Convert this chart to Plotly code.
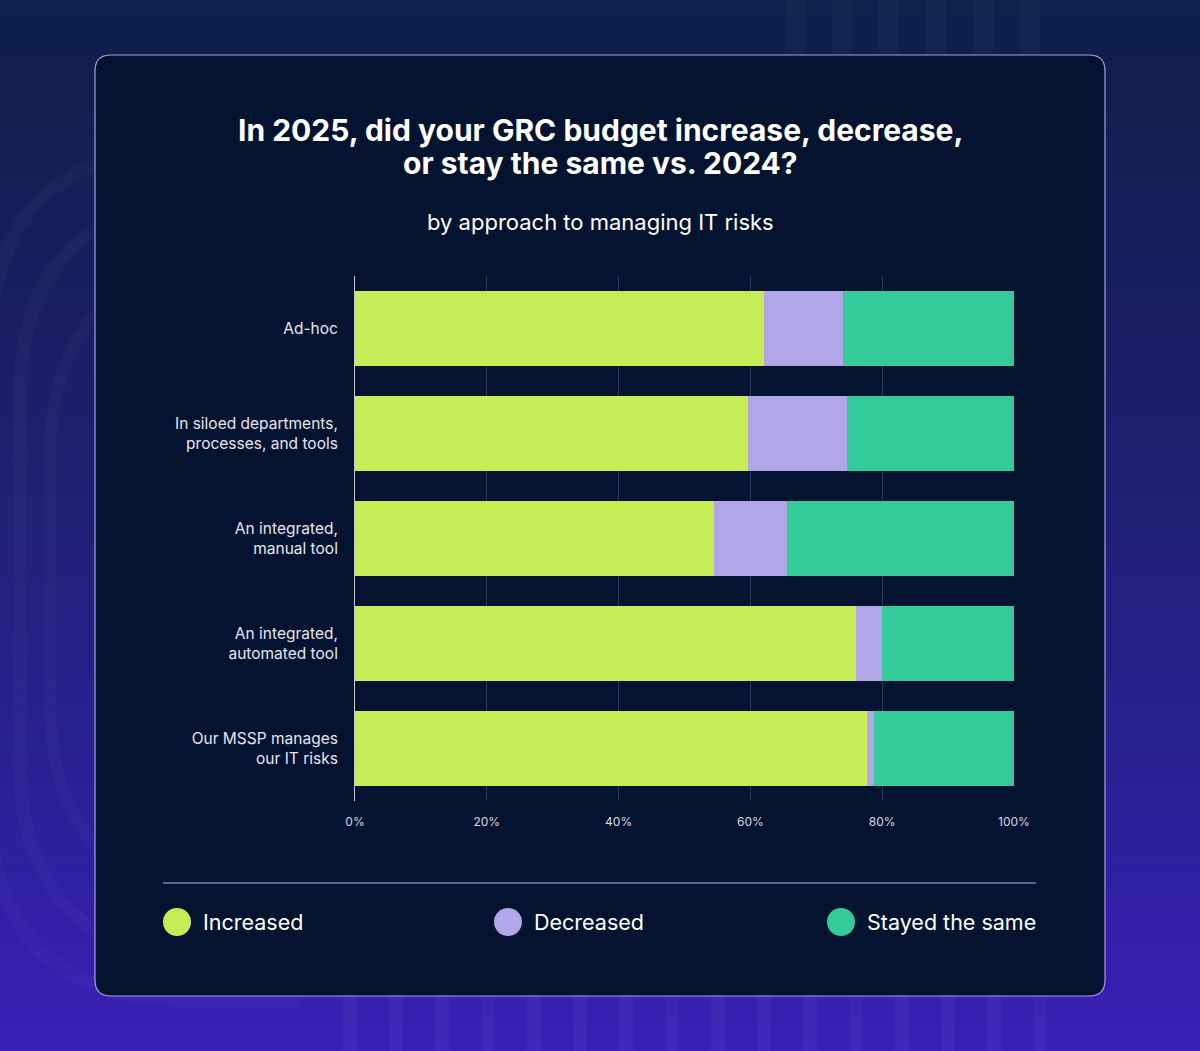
import plotly.graph_objects as go

categories = ["Ad-hoc", "In siloed departments,<br>processes, and tools", "An integrated,<br>manual tool",
              "An integrated,<br>automated tool", "Our MSSP manages<br>our IT risks"]
increased = [62.0, 59.6, 54.5, 76.0, 77.7]
decreased = [12.0, 15.1, 11.1, 4.0, 1.1]
stayed = [26.0, 25.3, 34.4, 20.0, 21.2]
series_names = ["Increased", "Decreased", "Stayed the same"]
series_colors = ["#c6ed55", "#b0a6e8", "#33cb99"]
x_ticks = [0, 20, 40, 60, 80, 100]
x_tick_labels = ["0%", "20%", "40%", "60%", "80%", "100%"]
title_lines = ["In 2025, did your GRC budget increase, decrease,", "or stay the same vs. 2024?"]
subtitle = "by approach to managing IT risks"

W, H = 1200, 1051
L, R, T, B = 355, 1014, 276, 801

def px(x):
    return (x - L) / (R - L)

def py(y):
    return (B - y) / (B - T)

fig = go.Figure()
for name, vals, col in zip(series_names, [increased, decreased, stayed], series_colors):
    fig.add_trace(go.Bar(y=categories, x=vals, name=name, orientation="h",
                         marker=dict(color=col, line=dict(width=0)), showlegend=False))

shapes = []
# background gradient
n = 70
c0 = (16, 33, 77)
c1 = (58, 31, 184)
for i in range(n):
    t = i / (n - 1)
    t2 = t ** 1.3
    c = tuple(int(c0[k] + (c1[k] - c0[k]) * t2) for k in range(3))
    y0 = H * i / n
    y1 = H * (i + 1) / n + 1
    shapes.append(dict(type="rect", xref="paper", yref="paper", x0=px(0), x1=px(W),
                       y0=py(y1), y1=py(y0), fillcolor="rgb(%d,%d,%d)" % c, line=dict(width=0), layer="below"))
# top stripes
for i in range(6):
    x0 = 785 + 47 * i
    shapes.append(dict(type="rect", xref="paper", yref="paper", x0=px(x0), x1=px(x0 + 20),
                       y0=py(60), y1=py(0), fillcolor="rgba(255,255,255,0.025)", line=dict(width=0), layer="below"))
# bottom stripes
for i in range(16):
    x0 = 343 + 46 * i
    shapes.append(dict(type="rect", xref="paper", yref="paper", x0=px(x0), x1=px(x0 + 14),
                       y0=py(H), y1=py(990), fillcolor="rgba(255,255,255,0.03)", line=dict(width=0), layer="below"))
# decorative arcs on left
for k, (xl, yt, yb, w) in enumerate([(-10, 150, 1000, 14), (20, 200, 960, 14), (50, 260, 900, 12)]):
    r = 200
    path = (f"M {px(300)},{py(yt)} L {px(xl + r)},{py(yt)} "
            f"Q {px(xl)},{py(yt)} {px(xl)},{py(yt + r)} "
            f"L {px(xl)},{py(yb - r)} Q {px(xl)},{py(yb)} {px(xl + r)},{py(yb)} L {px(300)},{py(yb)}")
    shapes.append(dict(type="path", xref="paper", yref="paper", path=path,
                       line=dict(color="rgba(255,255,255,0.022)", width=w), layer="below"))
# card
cx0, cy0, cx1, cy1, rr = 95, 55, 1105, 996, 16
card = (f"M {px(cx0 + rr)},{py(cy0)} L {px(cx1 - rr)},{py(cy0)} Q {px(cx1)},{py(cy0)} {px(cx1)},{py(cy0 + rr)} "
        f"L {px(cx1)},{py(cy1 - rr)} Q {px(cx1)},{py(cy1)} {px(cx1 - rr)},{py(cy1)} "
        f"L {px(cx0 + rr)},{py(cy1)} Q {px(cx0)},{py(cy1)} {px(cx0)},{py(cy1 - rr)} "
        f"L {px(cx0)},{py(cy0 + rr)} Q {px(cx0)},{py(cy0)} {px(cx0 + rr)},{py(cy0)} Z")
shapes.append(dict(type="path", xref="paper", yref="paper", path=card, fillcolor="#041330",
                   line=dict(color="#a99de6", width=1.2), layer="below"))
# separator
shapes.append(dict(type="line", xref="paper", yref="paper", x0=px(163), x1=px(1036), y0=py(883), y1=py(883),
                   line=dict(color="#5b6690", width=2)))

annotations = []
for line, yy in zip(title_lines, [130, 163]):
    annotations.append(dict(text="<b>" + line + "</b>", x=px(600), y=py(yy), xref="paper", yref="paper",
                            showarrow=False, xanchor="center", yanchor="middle",
                            font=dict(family="Inter", size=30, color="#ffffff")))
annotations.append(dict(text=subtitle, x=px(600), y=py(222), xref="paper", yref="paper",
                        showarrow=False, xanchor="center", yanchor="middle",
                        font=dict(family="Inter", size=22, color="#ffffff")))
leg_x = [177, 508, 841]
for name, col, lx in zip(series_names, series_colors, leg_x):
    shapes.append(dict(type="circle", xref="paper", yref="paper", x0=px(lx - 14), x1=px(lx + 14),
                       y0=py(936), y1=py(908), fillcolor=col, line=dict(width=0)))
    annotations.append(dict(text=name, x=px(lx + 24), y=py(922), xref="paper", yref="paper", showarrow=False,
                            xanchor="left", yanchor="middle", font=dict(family="Inter", size=21.5, color="#ffffff")))

fig.update_layout(
    width=W, height=H, barmode="stack", bargap=0.2857,
    margin=dict(l=L, r=W - R, t=T, b=H - B, pad=0),
    paper_bgcolor="#10214d", plot_bgcolor="rgba(0,0,0,0)",
    shapes=shapes, annotations=annotations,
    xaxis=dict(range=[0, 100], tickmode="array", tickvals=x_ticks, ticktext=x_tick_labels,
               showgrid=True, gridcolor="#2c3656", gridwidth=1,
               zeroline=False, showline=False, ticks="", ticklabelstandoff=12,
               tickfont=dict(family="Inter", size=12, color="#d8d8e0"), fixedrange=True),
    yaxis=dict(autorange="reversed", showline=True, linecolor="#c8c8d2", linewidth=1, showgrid=False,
               ticks="", ticklabelstandoff=13, tickfont=dict(family="Inter", size=15.5, color="#e6e6ee")),
    font=dict(family="Inter"),
)
fig.write_html("out.html")
